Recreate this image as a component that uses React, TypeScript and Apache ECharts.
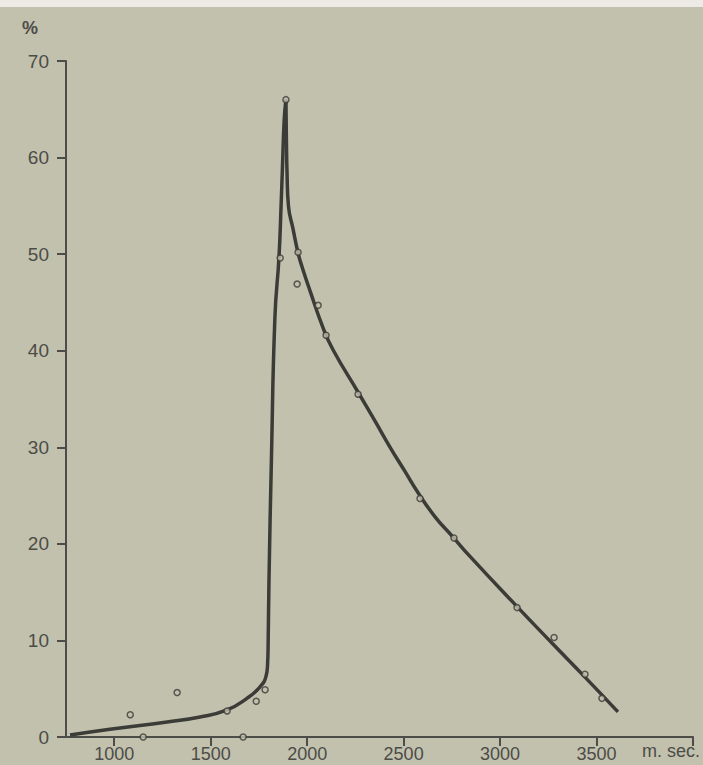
import React, { useEffect, useRef } from "react";
import * as echarts from "echarts";

// x: milliseconds, y: percent
// rising branch (up to the peak)
const riseX = [771, 978, 1274, 1445, 1585, 1688, 1756, 1787, 1795, 1798, 1802, 1815, 1833, 1854, 1865, 1872, 1881, 1890];
const riseY = [0.2, 0.8, 1.55, 2.07, 2.8, 4.0, 5.2, 6.3, 7.6, 10.0, 16.0, 29.0, 43.5, 49.7, 55.1, 59.0, 63.9, 66.0];
// falling branch (from the peak)
const fallX = [1890, 1892, 1896, 1903, 1927, 1953, 1975, 2015, 2082, 2134, 2264, 2352, 2430, 2507, 2575, 2663, 2756, 2844, 3088, 3280, 3440, 3611];
const fallY = [66.0, 62.5, 58.2, 55.0, 52.6, 50.1, 48.6, 46.2, 42.4, 40.1, 35.7, 32.7, 30.0, 27.5, 25.3, 22.8, 20.7, 18.7, 13.5, 9.5, 6.2, 2.6];

const pointX = [1083, 1150, 1326, 1585, 1668, 1736, 1782, 1860, 1890, 1948, 1953, 2057, 2098, 2264, 2585, 2761, 3088, 3280, 3440, 3528];
const pointY = [2.3, 0, 4.6, 2.7, 0, 3.7, 4.9, 49.6, 66.0, 46.9, 50.2, 44.7, 41.6, 35.5, 24.7, 20.6, 13.4, 10.3, 6.5, 4.0];

const xTickValues = [1000, 1500, 2000, 2500, 3000, 3500, 4000];
const xLabelValues = [1000, 1500, 2000, 2500, 3000, 3500];

const BG = "#c2c1ae";
const INK = "#3b3b37";
const LABEL = "#4c4c47";
const FONT = "'Liberation Sans', Arial, sans-serif";

export default function App() {
  const ref = useRef<HTMLDivElement>(null);
  useEffect(() => {
    if (!ref.current) return;
    const chart = echarts.init(ref.current, null, { renderer: "svg" });
    const lineStyle = { color: INK, width: 3.5 };
    chart.setOption({
      animation: false,
      backgroundColor: BG,
      grid: { left: 66, right: 10, top: 61, bottom: 28, containLabel: false, outerBoundsMode: "none" },
      xAxis: {
        type: "value",
        min: 750,
        max: 4000,
        axisLine: { show: true, onZero: false, lineStyle: { color: "#4c4c48", width: 2 } },
        axisTick: { show: true, customValues: xTickValues, length: 9, lineStyle: { color: "#4c4c48", width: 2 } },
        axisLabel: {
          customValues: xLabelValues,
          formatter: (v: number) => String(v),
          fontSize: 18,
          color: LABEL,
          margin: 8,
          fontFamily: FONT,
        },
        splitLine: { show: false },
      },
      yAxis: {
        type: "value",
        min: 0,
        max: 70,
        interval: 10,
        axisLine: { show: true, lineStyle: { color: "#4c4c48", width: 2 } },
        axisTick: { show: true, length: 9, lineStyle: { color: "#4c4c48", width: 2 } },
        axisLabel: { fontSize: 19, color: LABEL, margin: 17, fontFamily: FONT },
        splitLine: { show: false },
      },
      graphic: [
        { type: "rect", left: 0, top: 0, shape: { width: 703, height: 7 }, style: { fill: "#ecebe6" } },
        { type: "text", left: 22, top: 19, style: { text: "%", fontSize: 18, fontWeight: "bold", fill: LABEL, fontFamily: FONT } },
        { type: "text", left: 642, top: 742, style: { text: "m. sec.", fontSize: 18, fill: LABEL, fontFamily: FONT } },
      ],
      series: [
        {
          type: "line",
          data: riseX.map((x, i) => [x, riseY[i]]),
          showSymbol: false,
          smooth: 0.5,
          lineStyle,
          z: 2,
        },
        {
          type: "line",
          data: fallX.map((x, i) => [x, fallY[i]]),
          showSymbol: false,
          smooth: 0.5,
          lineStyle,
          z: 2,
        },
        {
          type: "scatter",
          data: pointX.map((x, i) => [x, pointY[i]]),
          symbol: "circle",
          symbolSize: 6,
          itemStyle: { color: BG, borderColor: INK, borderWidth: 1.5 },
          z: 3,
        },
      ],
    });
    return () => chart.dispose();
  }, []);
  return <div ref={ref} style={{ position: "absolute", left: 0, top: 0, width: 703, height: 765 }} />;
}
